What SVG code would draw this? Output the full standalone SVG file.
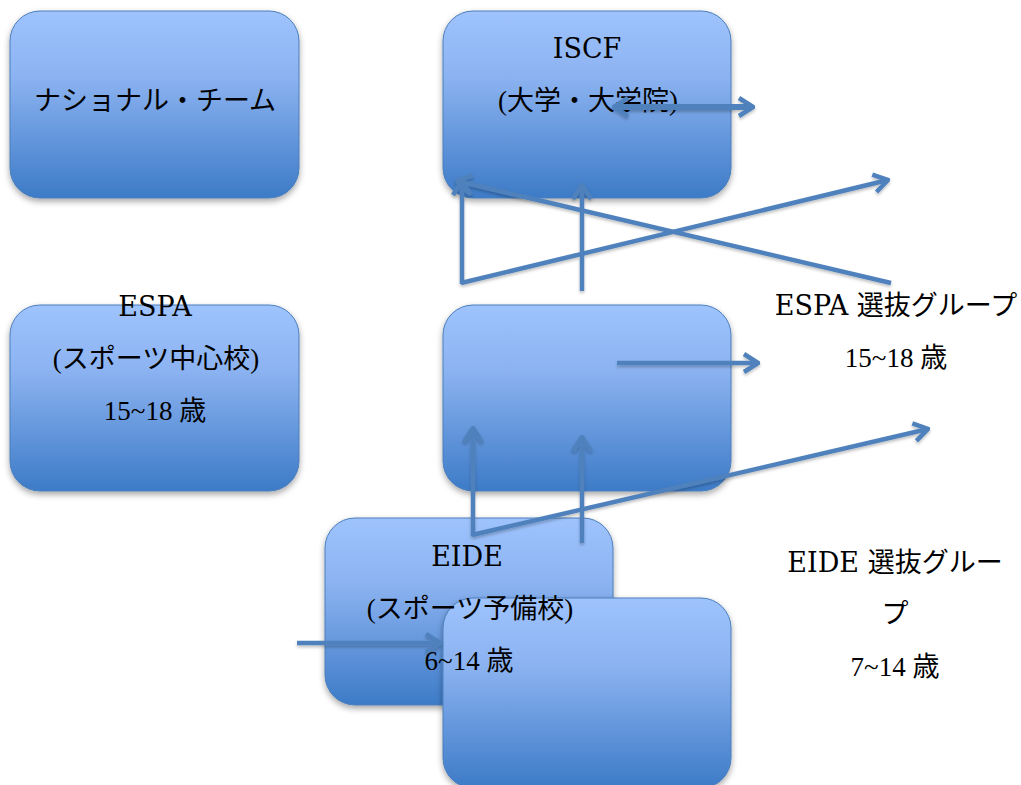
<svg xmlns="http://www.w3.org/2000/svg" width="1021" height="785" viewBox="0 0 1021 785">
  <defs>
    <linearGradient id="boxFill" x1="0" y1="0" x2="0" y2="1">
      <stop offset="0" stop-color="#9ec3fd"/>
      <stop offset="0.35" stop-color="#8cb3f1"/>
      <stop offset="1" stop-color="#3d7bc7"/>
    </linearGradient>
    <filter id="boxShadow" x="-10%" y="-10%" width="120%" height="125%">
      <feDropShadow dx="0" dy="3" stdDeviation="3" flood-color="#000" flood-opacity="0.35"/>
    </filter>
    <filter id="lineShadow" x="-10%" y="-10%" width="120%" height="120%">
      <feDropShadow dx="0" dy="2" stdDeviation="1.5" flood-color="#000" flood-opacity="0.25"/>
    </filter>
    <marker id="chevron" viewBox="-16 -11 18 22" markerWidth="18" markerHeight="22" refX="0" refY="0" orient="auto-start-reverse" markerUnits="userSpaceOnUse">
      <path d="M-14,-9 L0,0 L-14,9" fill="none" stroke="#4f81bd" stroke-width="4.5" stroke-linejoin="miter"/>
    </marker>
    <style>
      .box { fill: url(#boxFill); stroke: #4a7ebb; stroke-width: 1; filter: url(#boxShadow); }
      .label { font-family: "Liberation Serif", "Noto Sans CJK JP", serif; font-size: 27px; fill: #000; text-anchor: middle; }
      .caps { font-family: "DejaVu Serif", "Noto Sans CJK JP", serif; }
      .conn { fill: none; stroke: #4f81bd; stroke-width: 4.5; stroke-linecap: butt; }
      .head { marker-end: url(#chevron); }
      .both { marker-start: url(#chevron); marker-end: url(#chevron); }
    </style>
  </defs>

  <g id="national-team">
    <rect class="box" x="10" y="11" width="289" height="187" rx="30"/>
    <text class="label" x="155" y="110">ナショナル・チーム</text>
  </g>

  <g id="iscf">
    <rect class="box" x="443" y="11" width="288" height="187" rx="30"/>
    <text class="label caps" x="587" y="58">ISCF</text>
    <text class="label" x="588" y="110">(大学・大学院)</text>
  </g>

  <g id="espa">
    <rect class="box" x="10" y="305" width="289" height="186" rx="30"/>
    <text class="label caps" x="155" y="316">ESPA</text>
    <text class="label" x="156" y="368">(スポーツ中心校)</text>
    <text class="label" x="155" y="420">15~18 歳</text>
  </g>

  <g id="espa-center">
    <rect class="box" x="443" y="305" width="288" height="186" rx="30"/>
  </g>

  <g id="espa-selection">
    <text class="label caps" x="896" y="315">ESPA 選抜グループ</text>
    <text class="label" x="896" y="367">15~18 歳</text>
  </g>

  <g id="eide">
    <rect class="box" x="325" y="518" width="288" height="187" rx="30"/>
  </g>

  <g id="eide-center">
    <rect class="box" x="443" y="598" width="288" height="190" rx="30"/>
  </g>

  <g id="eide-label">
    <text class="label caps" x="467" y="566">EIDE</text>
    <text class="label" x="470" y="618">(スポーツ予備校)</text>
    <text class="label" x="469" y="670">6~14 歳</text>
  </g>

  <g id="eide-selection">
    <text class="label caps" x="895" y="572">EIDE 選抜グルー</text>
    <text class="label" x="895" y="623">プ</text>
    <text class="label" x="895" y="676">7~14 歳</text>
  </g>

  <g id="connectors" filter="url(#lineShadow)">
    <line class="conn both" x1="614" y1="107" x2="753" y2="107" style="stroke-width:6"/>
    <line class="conn head" x1="462" y1="284" x2="462" y2="181"/>
    <line class="conn head" x1="461" y1="283" x2="888" y2="180"/>
    <line class="conn head" x1="582" y1="291" x2="582" y2="185"/>
    <line class="conn head" x1="891" y1="283" x2="457" y2="181"/>
    <line class="conn head" x1="617" y1="363" x2="758" y2="363"/>
    <line class="conn head" x1="473" y1="536" x2="473" y2="428"/>
    <line class="conn head" x1="582" y1="543" x2="582" y2="437"/>
    <line class="conn head" x1="472" y1="535" x2="928" y2="429"/>
    <line class="conn head" x1="297" y1="643" x2="440" y2="643"/>
  </g>
</svg>
